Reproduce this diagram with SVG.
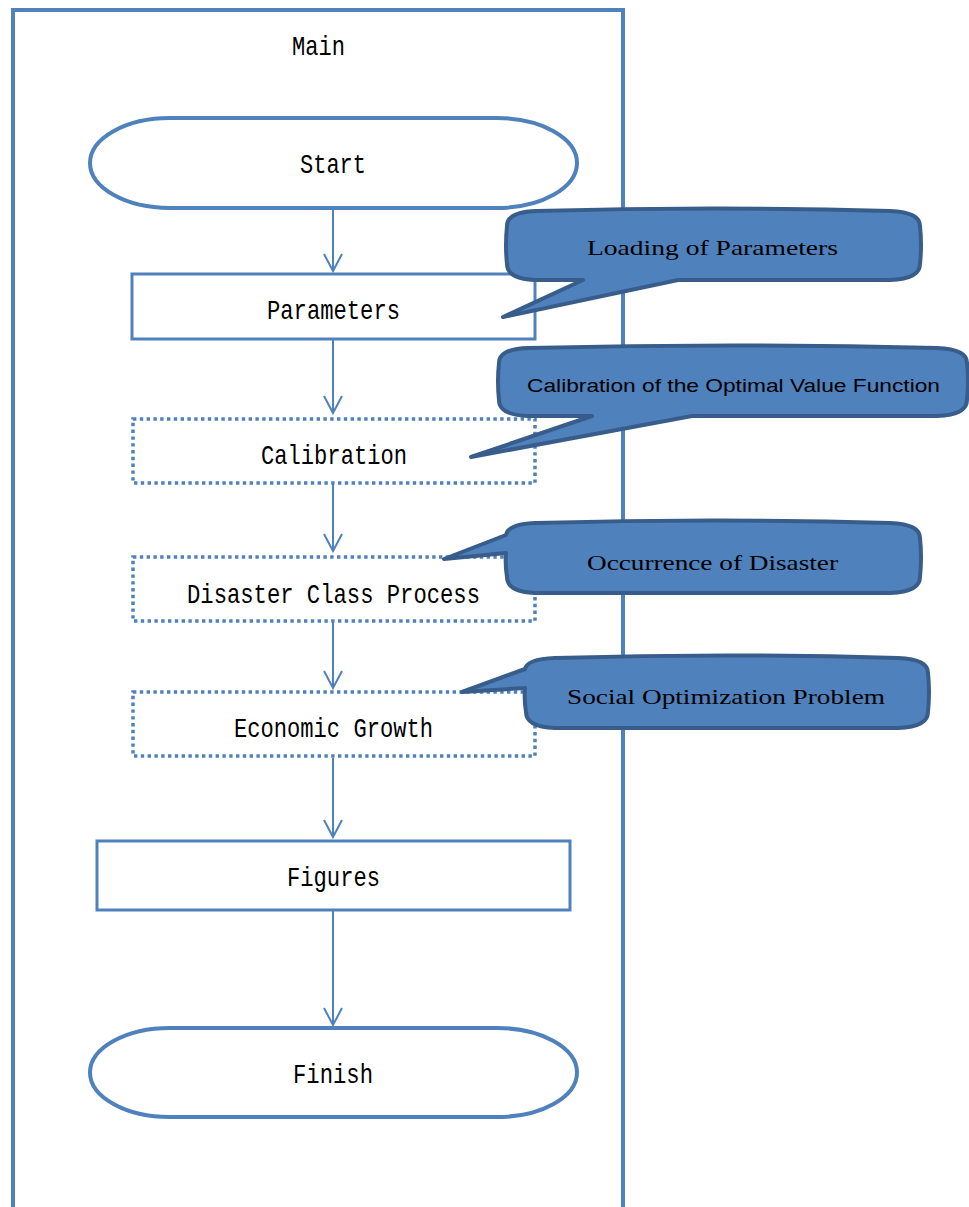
<svg xmlns="http://www.w3.org/2000/svg" width="969" height="1207" viewBox="0 0 969 1207">
  <style>
    .frame { fill: none; stroke: #4F81BD; stroke-width: 4; }
    .term { fill: #FFFFFF; stroke: #4F81BD; stroke-width: 4; }
    .proc { fill: #FFFFFF; stroke: #4F81BD; stroke-width: 3; }
    .dot { fill: #FFFFFF; stroke: #4F81BD; stroke-width: 3.5; stroke-dasharray: 3.4 3.4; }
    .edge { fill: none; stroke: #4F81BD; stroke-width: 2; }
    .tip { fill: none; stroke: #4F81BD; stroke-width: 2; }
    .callout { fill: #4F81BD; stroke: #385D8A; stroke-width: 4; stroke-linejoin: round; }
    .mono { font-family: "Liberation Mono", "DejaVu Sans Mono", monospace; font-size: 28px; fill: #000; text-anchor: middle; }
    .serif { font-family: "Liberation Serif", "DejaVu Serif", serif; font-size: 21px; fill: #000; text-anchor: middle; }
    .sans { font-family: "Liberation Sans", "Noto Sans", sans-serif; font-size: 19px; fill: #000; text-anchor: middle; }
  </style>
  <defs>
    <marker id="arrow" viewBox="0 0 20 20" refX="18" refY="10" markerWidth="20" markerHeight="20" markerUnits="userSpaceOnUse" orient="auto">
      <path d="M1,1 L18,10 L1,19" class="tip"/>
    </marker>
  </defs>

  <rect width="969" height="1207" fill="#FFFFFF"/>

  <!-- swimlane frame -->
  <g id="lane">
    <path class="frame" d="M13,1207 V10 H623 V1207"/>
    <text class="mono" x="318.5" y="55" textLength="53" lengthAdjust="spacingAndGlyphs">Main</text>
  </g>

  <!-- connectors -->
  <g id="connectors">
    <line class="edge" x1="333" y1="209" x2="333" y2="271" marker-end="url(#arrow)"/>
    <line class="edge" x1="333" y1="340" x2="333" y2="413" marker-end="url(#arrow)"/>
    <line class="edge" x1="333" y1="484" x2="333" y2="551" marker-end="url(#arrow)"/>
    <line class="edge" x1="333" y1="622" x2="333" y2="688" marker-end="url(#arrow)"/>
    <line class="edge" x1="333" y1="758" x2="333" y2="837" marker-end="url(#arrow)"/>
    <line class="edge" x1="333" y1="911" x2="333" y2="1025" marker-end="url(#arrow)"/>
  </g>

  <!-- flow nodes -->
  <g id="start">
    <rect class="term" x="90" y="118" width="487" height="90" rx="80" ry="45"/>
    <text class="mono" x="333" y="173" textLength="66" lengthAdjust="spacingAndGlyphs">Start</text>
  </g>
  <g id="parameters">
    <rect class="proc" x="132" y="274" width="403" height="65"/>
    <text class="mono" x="333.5" y="319" textLength="133" lengthAdjust="spacingAndGlyphs">Parameters</text>
  </g>
  <g id="calibration">
    <rect class="dot" x="133" y="419" width="402" height="64"/>
    <text class="mono" x="334" y="464" textLength="146" lengthAdjust="spacingAndGlyphs">Calibration</text>
  </g>
  <g id="disaster">
    <rect class="dot" x="133" y="557" width="402" height="64"/>
    <text class="mono" x="333.5" y="603" textLength="293" lengthAdjust="spacingAndGlyphs">Disaster Class Process</text>
  </g>
  <g id="growth">
    <rect class="dot" x="133" y="692" width="402" height="64"/>
    <text class="mono" x="333.5" y="737" textLength="199" lengthAdjust="spacingAndGlyphs">Economic Growth</text>
  </g>
  <g id="figures">
    <rect class="proc" x="97" y="841" width="473" height="69"/>
    <text class="mono" x="333.5" y="886" textLength="93" lengthAdjust="spacingAndGlyphs">Figures</text>
  </g>
  <g id="finish">
    <rect class="term" x="90" y="1028" width="487" height="89" rx="80" ry="44.5"/>
    <text class="mono" x="333" y="1083" textLength="80" lengthAdjust="spacingAndGlyphs">Finish</text>
  </g>

  <!-- annotation callouts (bowed-edge speech bubbles) -->
  <g id="note-loading">
    <path class="callout" d="M536,211 Q713,206 890,211 Q920,212 920,226 Q922,245 920,264 Q920,279 890,280 H678 L503,317 L583,280 H536 Q507,279 507,264 Q505,245 507,226 Q507,212 536,211 Z"/>
    <text class="serif" x="712.5" y="255" textLength="251" lengthAdjust="spacingAndGlyphs">Loading of Parameters</text>
  </g>
  <g id="note-calibration">
    <path class="callout" d="M528,348 Q733,343 937,348 Q967,349 967,363 Q969,381 967,400 Q967,415 937,416 H692 L471,457 L592,416 H528 Q499,415 499,400 Q497,381 499,363 Q499,349 528,348 Z"/>
    <text class="sans" x="733.5" y="392" textLength="413" lengthAdjust="spacingAndGlyphs">Calibration of the Optimal Value Function</text>
  </g>
  <g id="note-disaster">
    <path class="callout" d="M536,523 Q713,518 890,523 Q920,524 920,538 Q922,557 920,577 Q920,592 890,593 H536 Q507,592 507,577 Q505,565 506,553 L444,559 L506,535 Q508,524 536,523 Z"/>
    <text class="serif" x="712.5" y="570" textLength="251" lengthAdjust="spacingAndGlyphs">Occurrence of Disaster</text>
  </g>
  <g id="note-optimization">
    <path class="callout" d="M555,658 Q727,653 898,658 Q928,659 928,673 Q930,692 928,712 Q928,727 898,728 H555 Q526,727 526,712 Q524,700 525,688 L462,692 L525,669 Q527,659 555,658 Z"/>
    <text class="serif" x="726" y="704" textLength="318" lengthAdjust="spacingAndGlyphs">Social Optimization Problem</text>
  </g>
</svg>
